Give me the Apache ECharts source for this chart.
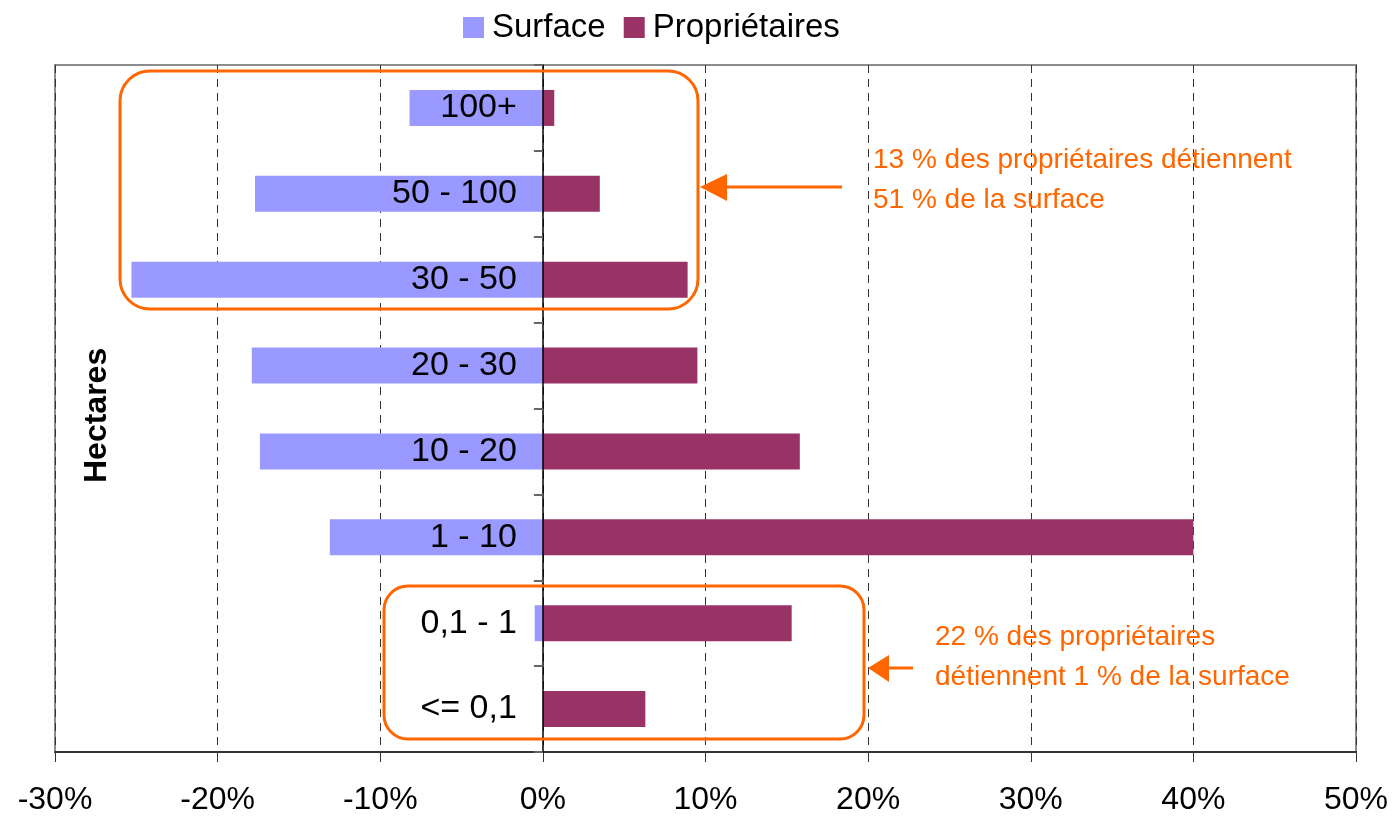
<!DOCTYPE html>
<html>
<head>
<meta charset="utf-8">
<title>Hectares</title>
<script src="https://cdn.jsdelivr.net/npm/echarts@6/dist/echarts.min.js"></script>
<style>
  html, body { margin: 0; padding: 0; background: #fff; }
  #chart { width: 1394px; height: 819px; }
</style>
</head>
<body>
<div id="chart"></div>
<script>
// classes de surface, du bas vers le haut
var categories = ['<= 0,1', '0,1 - 1', '1 - 10', '10 - 20', '20 - 30', '30 - 50', '50 - 100', '100+']
// part de la surface (negatif = a gauche), en %
var surface = [0, -0.5, -13.1, -17.4, -17.9, -25.3, -17.7, -8.2]
// part des proprietaires, en %
var proprietaires = [6.3, 15.3, 40.0, 15.8, 9.5, 8.9, 3.5, 0.7]
var xTicks = [-30, -20, -10, 0, 10, 20, 30, 40, 50]

var orange = '#FF6600'
var font = 'Liberation Sans, Arial, sans-serif'

var gridLeft = 55
var gridRight = 38
var plotWidth = 1394 - gridLeft - gridRight
var xMin = xTicks[0]
var xMax = xTicks[xTicks.length - 1]
// l'axe des categories est place sur le 0 de l'axe des x
var zeroOffset = (0 - xMin) / (xMax - xMin) * plotWidth

var chart = echarts.init(document.getElementById('chart'))

var option = {
  animation: false,
  color: ['#9999FF', '#993366'],
  legend: {
    left: 458,
    top: 6,
    itemWidth: 21,
    itemHeight: 21,
    itemGap: 18,
    icon: 'rect',
    textStyle: { fontSize: 33, color: '#000', fontFamily: font, padding: [0, 0, 0, 3] },
    data: ['Surface', 'Propriétaires']
  },
  grid: {
    left: gridLeft,
    right: gridRight,
    top: 65,
    bottom: 67,
    show: true,
    borderColor: '#8c8c8c',
    borderWidth: 2,
    containLabel: false,
    outerBoundsMode: 'none'
  },
  xAxis: {
    type: 'value',
    min: xMin,
    max: xMax,
    interval: 10,
    axisLine: { show: true, lineStyle: { color: '#333', width: 2 } },
    axisTick: { show: true, length: 10, lineStyle: { color: '#333' } },
    axisLabel: {
      formatter: '{value}%',
      fontSize: 32,
      color: '#000',
      fontFamily: font,
      margin: 32
    },
    splitLine: {
      show: true,
      lineStyle: { color: '#333', type: [8, 6], width: 1 }
    }
  },
  yAxis: {
    type: 'category',
    data: categories,
    z: 10,
    offset: -zeroOffset,
    axisLine: { show: true, onZero: false, lineStyle: { color: '#000', width: 1.5 } },
    axisTick: { show: true, length: 9, lineStyle: { color: '#666', width: 2 } },
    axisLabel: {
      fontSize: 34,
      color: '#000',
      fontFamily: font,
      margin: 26
    },
    splitLine: { show: false }
  },
  series: [
    {
      name: 'Surface',
      type: 'bar',
      barWidth: 36,
      barGap: '-100%',
      data: surface
    },
    {
      name: 'Propriétaires',
      type: 'bar',
      barWidth: 36,
      barGap: '-100%',
      data: proprietaires
    }
  ],
  graphic: [
    {
      type: 'text',
      x: 81,
      y: 483,
      rotation: Math.PI / 2,
      style: {
        text: 'Hectares',
        font: 'bold 32px ' + font,
        fill: '#000'
      }
    },
    {
      type: 'rect',
      z: 100,
      shape: { x: 120, y: 71, width: 578, height: 238, r: 30 },
      style: { fill: 'none', stroke: orange, lineWidth: 3 }
    },
    {
      type: 'rect',
      z: 100,
      shape: { x: 384, y: 586, width: 480, height: 153, r: 24 },
      style: { fill: 'none', stroke: orange, lineWidth: 3 }
    },
    {
      type: 'line',
      z: 100,
      shape: { x1: 725, y1: 187, x2: 842, y2: 187 },
      style: { stroke: orange, lineWidth: 3 }
    },
    {
      type: 'polygon',
      z: 100,
      shape: { points: [[700, 187], [727, 174], [727, 201]] },
      style: { fill: orange }
    },
    {
      type: 'line',
      z: 100,
      shape: { x1: 886, y1: 668, x2: 913, y2: 668 },
      style: { stroke: orange, lineWidth: 3 }
    },
    {
      type: 'polygon',
      z: 100,
      shape: { points: [[868, 668], [889, 655], [889, 682]] },
      style: { fill: orange }
    },
    {
      type: 'text',
      z: 100,
      x: 873,
      y: 140,
      style: {
        text: '13 % des propriétaires détiennent\n51 % de la surface',
        font: '28px ' + font,
        fill: orange,
        lineHeight: 40
      }
    },
    {
      type: 'text',
      z: 100,
      x: 935,
      y: 617,
      style: {
        text: '22 % des propriétaires\ndétiennent 1 % de la surface',
        font: '28px ' + font,
        fill: orange,
        lineHeight: 40
      }
    }
  ]
}

chart.setOption(option)
</script>
</body>
</html>
